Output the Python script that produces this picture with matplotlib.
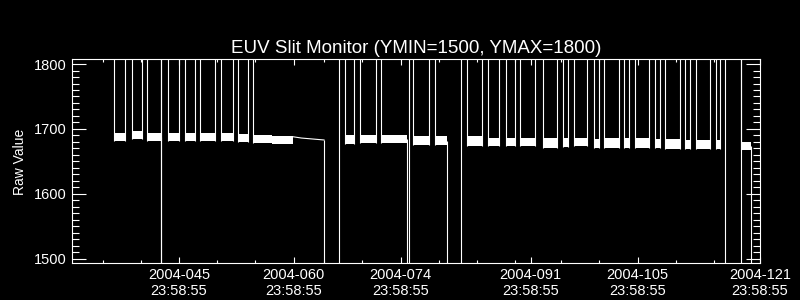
import matplotlib
matplotlib.use("Agg")
import matplotlib.pyplot as plt
import numpy as np

plt.rcParams['font.family'] = ['Liberation Sans', 'DejaVu Sans']

# ---------------- data (day of year 2004, raw value) ----------------
seg_start = [37.49, 39.85, 41.81, 44.56, 46.78, 48.75, 51.49, 53.72, 55.68, 58.16,
             67.71, 69.68, 72.42, 76.61, 79.49, 83.67, 86.42, 88.78, 90.61, 93.62,
             96.23, 97.67, 100.29, 101.60, 104.21, 105.65, 108.27, 109.58, 112.19,
             113.63, 116.25, 119.52]
seg_end = [38.93, 41.16, 43.64, 46.00, 48.09, 50.71, 53.06, 55.02, 58.16, 60.91,
           68.89, 71.77, 75.83, 78.70, 81.06, 85.64, 87.86, 89.95, 92.57, 95.45,
           96.89, 99.37, 100.94, 103.56, 104.87, 107.48, 108.92, 111.54, 112.85,
           115.46, 116.77, 120.83]
seg_low = [1682, 1685, 1682, 1682, 1682, 1681, 1681, 1680, 1679, 1677,
           1677, 1679, 1679, 1675, 1675, 1674, 1674, 1674, 1674, 1671,
           1672, 1674, 1671, 1671, 1671, 1671, 1671, 1669, 1669,
           1669, 1669, 1668]
seg_high = [1694, 1697, 1694, 1694, 1694, 1694, 1694, 1692, 1691, 1689,
            1691, 1691, 1691, 1689, 1689, 1689, 1686, 1686, 1686, 1686,
            1686, 1686, 1685, 1686, 1686, 1686, 1685, 1685, 1683,
            1683, 1683, 1680]
# does the signal jump off-scale high at the segment's left / right edge?
rise_left = [True] * 9 + [False] + [True] * 22
rise_right = [True] * 8 + [False, False, True, True, False, True, False] + [True] * 16 + [False]

# drops below scale (from band level)
drop_day = [43.64, 64.97, 75.83, 81.06, 120.83]
drop_from = [1688, 1683, 1685, 1682, 1674]
# full-range excursions (from above scale to below scale)
outage_day = [43.64, 66.93, 76.09, 82.89, 117.43, 119.52]
# data gap bridged by the line
gap_day = [60.91, 62.0, 64.97]
gap_raw = [1688, 1686, 1683]

HIGH, LOW = 1900, 1400

xtick_days = [45.999, 60.999, 74.999, 91.999, 105.999, 121.999]
xtick_labels = ['2004-045\n23:58:55', '2004-060\n23:58:55', '2004-074\n23:58:55',
                '2004-091\n23:58:55', '2004-105\n23:58:55', '2004-121\n23:58:55']
xminor_days = [35.999, 40.999, 50.999, 55.999, 64.999, 69.999, 79.999, 84.999,
               89.999, 95.999, 100.999, 110.999, 115.999]

# ---------------- figure ----------------
fig = plt.figure(figsize=(8, 3), dpi=100, facecolor='black')
ax = fig.add_axes([0.09, 0.1223, 0.86, 0.6794], facecolor='black')
ax.set_xlim(31.999, 121.999)
ax.set_ylim(1493, 1807)

lw = 0.8
# bands of noisy data
widths = np.subtract(seg_end, seg_start)
ax.bar(seg_start, np.subtract(seg_high, seg_low), width=widths, bottom=seg_low,
       align='edge', color='white', linewidth=0)

# edges jumping off-scale high
rl = np.array(rise_left)
rr = np.array(rise_right)
ax.vlines(np.array(seg_start)[rl], np.array(seg_low)[rl], HIGH, color='white', lw=lw)
ax.vlines(np.array(seg_end)[rr], np.array(seg_low)[rr], HIGH, color='white', lw=lw)
# drops
ax.vlines(drop_day, LOW, drop_from, color='white', lw=lw)
ax.vlines(outage_day, LOW, HIGH, color='white', lw=lw)
ax.plot(gap_day, gap_raw, color='white', lw=lw)

# ---------------- axes styling ----------------
for s in ax.spines.values():
    s.set_color('white')
    s.set_linewidth(0.8)

ax.set_xticks(xtick_days)
ax.set_xticklabels(xtick_labels)
ax.set_xticks(xminor_days, minor=True)
ax.set_yticks([1500, 1600, 1700, 1800])
ax.set_yticks(np.arange(1500, 1801, 10), minor=True)

ax.tick_params(axis='both', which='both', direction='in', colors='white',
               top=True, right=True, width=0.8, labelsize=10.5)
ax.tick_params(axis='x', which='major', length=4.3, pad=3.5)
ax.tick_params(axis='x', which='minor', length=2.2)
ax.tick_params(axis='y', which='major', length=10, pad=3.6)
ax.tick_params(axis='y', which='minor', length=5)

ax.set_ylabel('Raw Value', color='white', fontsize=10, labelpad=5)
ax.set_title('EUV Slit Monitor (YMIN=1500, YMAX=1800)', color='white',
             fontsize=13.5, pad=5)

fig.savefig('out.png', dpi=100, facecolor='black')
